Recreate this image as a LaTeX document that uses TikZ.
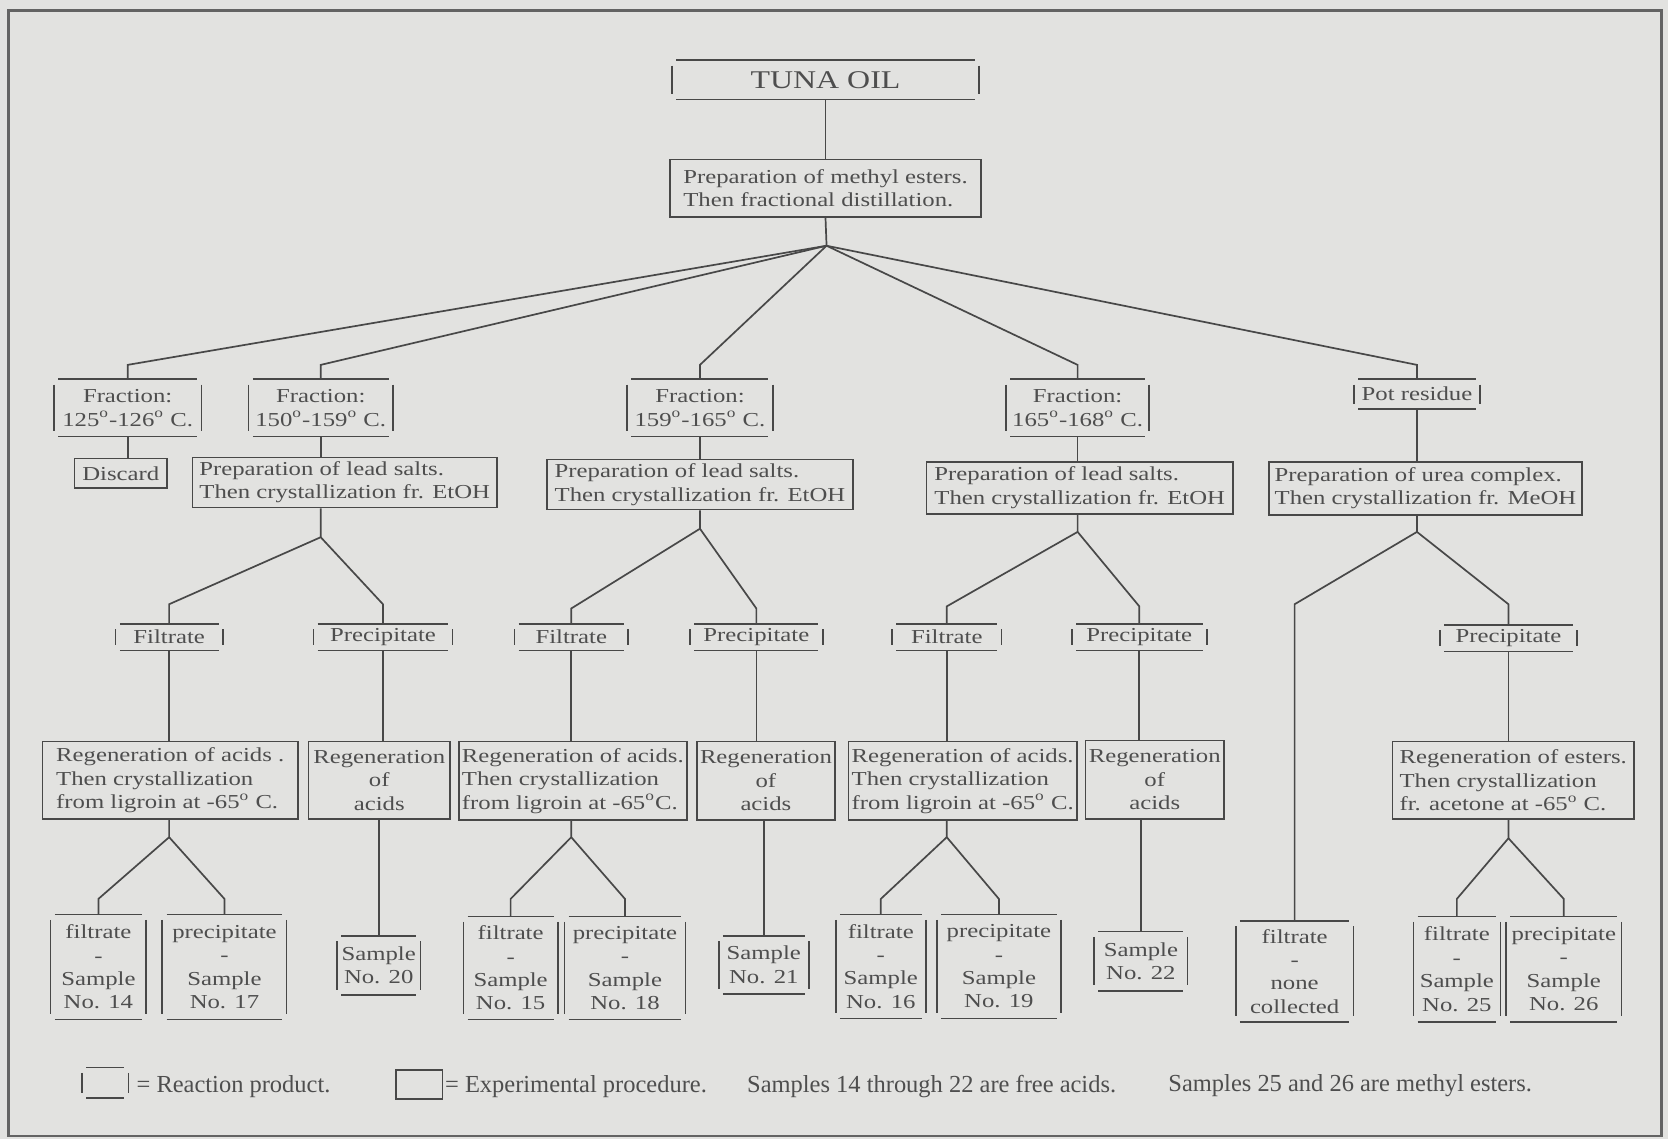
\documentclass[tikz,border=0pt]{standalone}
\usepackage{fontspec}
\setmainfont{Liberation Serif}[FakeStretch=1.25]
\newfontfamily\legfont{Liberation Serif}
\newcommand\mainsz{\fontsize{9.3}{11}\selectfont}
\newcommand\bigsz{\fontsize{12}{14}\selectfont}
\newcommand\legsz{\legfont\fontsize{11.5}{13}\selectfont}
\definecolor{bg}{RGB}{226,226,224}
\definecolor{ink}{RGB}{72,72,72}
\definecolor{txt}{RGB}{78,78,78}
\begin{document}
\begin{tikzpicture}[x=0.5pt,y=-0.5pt,
  every node/.style={text=txt,font=\mainsz},
  ln/.style={draw=ink,line width=0.8pt},
  proc/.style={draw=ink,line width=0.8pt,inner sep=1.5pt,align=left},
  procc/.style={proc,align=center},
  prod/.style={inner sep=0pt,align=center}]
\fill[bg] (0,0) rectangle (1568,1071);
\useasboundingbox (0,0) rectangle (1568,1071);
\draw[draw=ink!85,line width=1.2pt] (8,10) rectangle (1562,1068);

% level 0/1
\node[prod,minimum width=140pt,minimum height=18pt,font=\bigsz] (tuna) at (776,75) {TUNA OIL};
\node[proc,minimum width=146pt,minimum height=27pt] (proc1) at (776,177) {Preparation of methyl esters.\\Then fractional distillation.};

% fractions
\node[prod,minimum width=65pt,minimum height=26.5pt] (f1) at (120,383.5) {Fraction:\\125\textsuperscript{o}-126\textsuperscript{o} C.};
\node[prod,minimum width=63.5pt,minimum height=26.5pt] (f2) at (301.5,383.5) {Fraction:\\150\textsuperscript{o}-159\textsuperscript{o} C.};
\node[prod,minimum width=64pt,minimum height=26.5pt] (f3) at (658,383.5) {Fraction:\\159\textsuperscript{o}-165\textsuperscript{o} C.};
\node[prod,minimum width=63pt,minimum height=26.5pt] (f4) at (1013,383.5) {Fraction:\\165\textsuperscript{o}-168\textsuperscript{o} C.};
\node[prod,minimum width=55pt,minimum height=13.5pt] (f5) at (1332,370.5) {Pot residue};

% procedures level 2
\node[proc,minimum width=43.5pt,minimum height=14pt,align=center] (discard) at (113.5,445) {Discard};
\node[proc,minimum width=143pt,minimum height=23.5pt] (ls1) at (324,453.5) {Preparation of lead salts.\\Then crystallization fr. EtOH};
\node[proc,minimum width=144pt,minimum height=23.5pt] (ls2) at (658,455.5) {Preparation of lead salts.\\Then crystallization fr. EtOH};
\node[proc,minimum width=144pt,minimum height=24.5pt] (ls3) at (1015,458.5) {Preparation of lead salts.\\Then crystallization fr. EtOH};
\node[proc,minimum width=147pt,minimum height=25pt] (urea) at (1340,459) {Preparation of urea complex.\\Then crystallization fr. MeOH};

% filtrate / precipitate
\node[prod,minimum width=46pt,minimum height=12pt] (fil1) at (159,599) {Filtrate};
\node[prod,minimum width=61pt,minimum height=12pt] (pre1) at (360,599) {Precipitate};
\node[prod,minimum width=49pt,minimum height=12pt] (fil2) at (537,599) {Filtrate};
\node[prod,minimum width=58pt,minimum height=12pt] (pre2) at (711,599) {Precipitate};
\node[prod,minimum width=47pt,minimum height=12pt] (fil3) at (890,599) {Filtrate};
\node[prod,minimum width=59pt,minimum height=12pt] (pre3) at (1071,599) {Precipitate};
\node[prod,minimum width=60pt,minimum height=12pt] (pre4) at (1418,600) {Precipitate};

% regeneration
\node[proc,minimum width=120pt,minimum height=36.5pt] (rg1) at (160,733.5) {Regeneration of acids .\\Then crystallization\\from ligroin at -65\textsuperscript{o} C.};
\node[procc,minimum width=66.5pt,minimum height=36.5pt] (rg2) at (356.5,733.5) {Regeneration\\of\\acids};
\node[proc,minimum width=106.5pt,minimum height=37pt] (rg3) at (538.5,734) {Regeneration of acids.\\Then crystallization\\from ligroin at -65\textsuperscript{o}C.};
\node[procc,minimum width=65pt,minimum height=37pt] (rg4) at (720,734) {Regeneration\\of\\acids};
\node[proc,minimum width=106pt,minimum height=37pt] (rg5) at (905,734) {Regeneration of acids.\\Then crystallization\\from ligroin at -65\textsuperscript{o} C.};
\node[procc,minimum width=64.5pt,minimum height=37pt] (rg6) at (1085.5,733) {Regeneration\\of\\acids};
\node[proc,minimum width=113.5pt,minimum height=36.5pt] (rg7) at (1422.5,733.5) {Regeneration of esters.\\Then crystallization\\fr. acetone at -65\textsuperscript{o} C.};

% samples
\node[prod,minimum width=40.5pt,minimum height=49pt] (s14) at (92.5,909) {filtrate\\-\\Sample\\No. 14};
\node[prod,minimum width=54pt,minimum height=49pt] (s17) at (211,909) {precipitate\\-\\Sample\\No. 17};
\node[prod,minimum width=34pt,minimum height=27.5pt] (s20) at (356,907.5) {Sample\\No. 20};
\node[prod,minimum width=40pt,minimum height=48pt] (s15) at (480,910) {filtrate\\-\\Sample\\No. 15};
\node[prod,minimum width=52.5pt,minimum height=48pt] (s18) at (587.5,910) {precipitate\\-\\Sample\\No. 18};
\node[prod,minimum width=38pt,minimum height=27pt] (s21) at (718,907) {Sample\\No. 21};
\node[prod,minimum width=38pt,minimum height=48.5pt] (s16) at (828,908.5) {filtrate\\-\\Sample\\No. 16};
\node[prod,minimum width=54pt,minimum height=48.5pt] (s19) at (939,908.5) {precipitate\\-\\Sample\\No. 19};
\node[prod,minimum width=39.5pt,minimum height=27.5pt] (s22) at (1072.5,903.5) {Sample\\No. 22};
\node[prod,minimum width=51pt,minimum height=47pt] (none) at (1217,913) {filtrate\\-\\none\\collected};
\node[prod,minimum width=36.5pt,minimum height=49pt] (s25) at (1369.5,911) {filtrate\\-\\Sample\\No. 25};
\node[prod,minimum width=50pt,minimum height=49pt] (s26) at (1470,911) {precipitate\\-\\Sample\\No. 26};

% legend
\node[prod,minimum width=17.5pt,minimum height=14pt] (legp) at (99,1018) {};
\node[anchor=west,font=\legsz,inner sep=1pt] (legpt) at (126,1021) {= Reaction product.};
\node[proc,minimum width=22pt,minimum height=13.5pt] (legb) at (394,1019.5) {};
\node[anchor=west,font=\legsz,inner sep=1pt] (legbt) at (416,1021) {= Experimental procedure.};
\node[anchor=west,font=\legsz,inner sep=1pt] (leg3) at (700,1021) {Samples 14 through 22 are free acids.};
\node[anchor=west,font=\legsz,inner sep=1pt] (leg4) at (1096,1021) {Samples 25 and 26 are methyl esters.};

% reaction-product marks
\foreach \n in {tuna,f1,f2,f3,f4,f5,fil1,pre1,fil2,pre2,fil3,pre3,pre4,s14,s17,s20,s15,s18,s21,s16,s19,s22,none,s25,s26,legp}{
  \draw[ln] (\n.north west) -- (\n.north east);
  \draw[ln] (\n.south west) -- (\n.south east);
  \draw[ln] ([xshift=-2pt,yshift=-2.5pt]\n.north west) -- ([xshift=-2pt,yshift=2.5pt]\n.south west);
  \draw[ln] ([xshift=2pt,yshift=-2.5pt]\n.north east) -- ([xshift=2pt,yshift=2.5pt]\n.south east);
}

% connectors
\coordinate (fan) at (777,231);
\coordinate (l1) at (0,343);
\draw[ln] (tuna.south) -- (proc1.north);
\draw[ln] (proc1.south) -- (fan);
\foreach \n in {f1,f2,f3,f4,f5}{
  \draw[ln] (fan) -- (\n.north |- l1) -- (\n.north);
}
\draw[ln] (f1.south) -- (f1.south |- discard.north);
\draw[ln] (f2.south) -- (f2.south |- ls1.north);
\draw[ln] (f3.south) -- (f3.south |- ls2.north);
\draw[ln] (f4.south) -- (f4.south |- ls3.north);
\draw[ln] (f5.south) -- (f5.south |- urea.north);

\coordinate (b1) at (301.5,505); \coordinate (j1) at (0,568);
\coordinate (b2) at (658,497);   \coordinate (j2) at (0,572);
\coordinate (b3) at (1013,500);  \coordinate (j3) at (0,570);
\coordinate (b4) at (1332,500);  \coordinate (j4) at (0,568);
\draw[ln] (ls1.south -| b1) -- (b1) -- (fil1.north |- j1) -- (fil1.north);
\draw[ln] (b1) -- (pre1.north |- j1) -- (pre1.north);
\draw[ln] (ls2.south -| b2) -- (b2) -- (fil2.north |- j2) -- (fil2.north);
\draw[ln] (b2) -- (pre2.north |- j2) -- (pre2.north);
\draw[ln] (ls3.south -| b3) -- (b3) -- (fil3.north |- j3) -- (fil3.north);
\draw[ln] (b3) -- (pre3.north |- j3) -- (pre3.north);
\draw[ln] (urea.south -| b4) -- (b4) -- (none.north |- j4) -- (none.north);
\draw[ln] (b4) -- (pre4.north |- j4) -- (pre4.north);

\draw[ln] (fil1.south) -- (fil1.south |- rg1.north);
\draw[ln] (pre1.south) -- (pre1.south |- rg2.north);
\draw[ln] (fil2.south) -- (fil2.south |- rg3.north);
\draw[ln] (pre2.south) -- (pre2.south |- rg4.north);
\draw[ln] (fil3.south) -- (fil3.south |- rg5.north);
\draw[ln] (pre3.south) -- (pre3.south |- rg6.north);
\draw[ln] (pre4.south) -- (pre4.south |- rg7.north);

\coordinate (k) at (0,845);
\coordinate (c1) at (159,787);
\coordinate (c2) at (537,787);
\coordinate (c3) at (890,787);
\coordinate (c4) at (1418,788);
\draw[ln] (rg1.south -| c1) -- (c1) -- (s14.north |- k) -- (s14.north);
\draw[ln] (c1) -- (s17.north |- k) -- (s17.north);
\draw[ln] (rg3.south -| c2) -- (c2) -- (s15.north |- k) -- (s15.north);
\draw[ln] (c2) -- (s18.north |- k) -- (s18.north);
\draw[ln] (rg5.south -| c3) -- (c3) -- (s16.north |- k) -- (s16.north);
\draw[ln] (c3) -- (s19.north |- k) -- (s19.north);
\draw[ln] (rg7.south -| c4) -- (c4) -- (s25.north |- k) -- (s25.north);
\draw[ln] (c4) -- (s26.north |- k) -- (s26.north);
\draw[ln] (rg2.south -| s20.north) -- (s20.north);
\draw[ln] (rg4.south -| s21.north) -- (s21.north);
\draw[ln] (rg6.south -| s22.north) -- (s22.north);
\end{tikzpicture}
\end{document}
